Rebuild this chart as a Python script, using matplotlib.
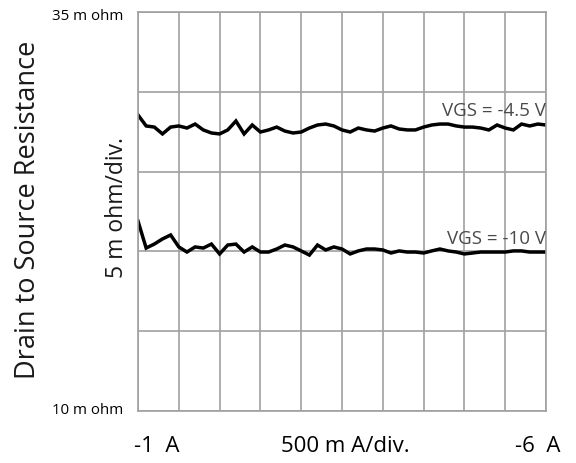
import numpy as np
import matplotlib
matplotlib.use("Agg")
import matplotlib.pyplot as plt

plt.rcParams['font.family'] = ['Open Sans', 'DejaVu Sans']

# Drain current sweep (A), 0.1 A steps from -1 A to -6 A
current = [-1.0 - 0.1 * i for i in range(51)]

# Drain-to-source on-resistance (m ohm)
rds_vgs_4v5 = [28.55, 27.86, 27.79, 27.36, 27.79, 27.86, 27.73, 27.98, 27.61, 27.42,
               27.36, 27.61, 28.17, 27.36, 27.92, 27.48, 27.61, 27.79, 27.54, 27.42,
               27.48, 27.73, 27.92, 27.98, 27.86, 27.61, 27.48, 27.73, 27.61, 27.54,
               27.73, 27.86, 27.67, 27.61, 27.61, 27.79, 27.92, 27.98, 27.98, 27.86,
               27.79, 27.79, 27.73, 27.61, 27.92, 27.73, 27.61, 27.98, 27.86, 27.98,
               27.92]
rds_vgs_10v = [21.90, 20.21, 20.46, 20.78, 21.03, 20.28, 19.96, 20.28, 20.21, 20.46,
               19.84, 20.40, 20.46, 19.96, 20.28, 19.96, 19.96, 20.15, 20.40, 20.28,
               20.03, 19.77, 20.40, 20.09, 20.28, 20.15, 19.84, 20.03, 20.15, 20.15,
               20.09, 19.90, 20.03, 19.96, 19.96, 19.90, 20.03, 20.15, 20.03, 19.96,
               19.84, 19.90, 19.96, 19.96, 19.96, 19.96, 20.03, 20.03, 19.96, 19.96,
               19.96]

series_labels = ["VGS = -4.5 V", "VGS = -10 V"]
x_start, x_stop, x_div = -1.0, -6.0, 0.5
y_min, y_max, y_div = 10, 35, 5

fig = plt.figure(figsize=(5.76, 4.63), dpi=100)
ax = fig.add_axes([138 / 576, 1 - 411 / 463, 408 / 576, 399 / 463])

grid_color = "#a0a0a0"
ax.set_xlim(x_start, x_stop)
ax.set_ylim(y_min, y_max)
ax.set_xticks(np.arange(x_start, x_stop - 0.01, -x_div))
ax.set_yticks(np.arange(y_min, y_max + 0.01, y_div))
ax.tick_params(length=0, labelbottom=False, labelleft=False)
ax.grid(True, color=grid_color, linewidth=1.2)
for s in ax.spines.values():
    s.set_color(grid_color)
    s.set_linewidth(1.2)

ax.plot(current, rds_vgs_4v5, color="black", linewidth=2.5, solid_joinstyle="miter")
ax.plot(current, rds_vgs_10v, color="black", linewidth=2.5, solid_joinstyle="miter")

label_color = "#4a4a4a"
ax.text(x_stop, rds_vgs_4v5[-1] + 0.3, series_labels[0], ha="right", va="bottom",
        fontsize=13.5, color=label_color)
ax.text(x_stop, rds_vgs_10v[-1] + 0.25, series_labels[1], ha="right", va="bottom",
        fontsize=13.5, color=label_color)

# Scale annotations
fig.text(123 / 576, 1 - 17 / 463, f"{y_max} m ohm", ha="right", va="center", fontsize=10.8)
fig.text(123 / 576, 1 - 410 / 463, f"{y_min} m ohm", ha="right", va="center", fontsize=10.8)
fig.text(28 / 576, 1 - 210 / 463, "Drain to Source Resistance", rotation=90,
         ha="center", va="center", fontsize=19.5, color="#1a1a1a")
fig.text(117 / 576, 1 - 208 / 463, "5 m ohm/div.", rotation=90,
         ha="center", va="center", fontsize=16.5, color="#1a1a1a")
fig.text(157 / 576, 1 - 446 / 463, "-1  A", ha="center", va="center", fontsize=16)
fig.text(345 / 576, 1 - 446 / 463, "500 m A/div.", ha="center", va="center", fontsize=16)
fig.text(538 / 576, 1 - 446 / 463, "-6  A", ha="center", va="center", fontsize=16)

fig.savefig("out.png", dpi=100)
